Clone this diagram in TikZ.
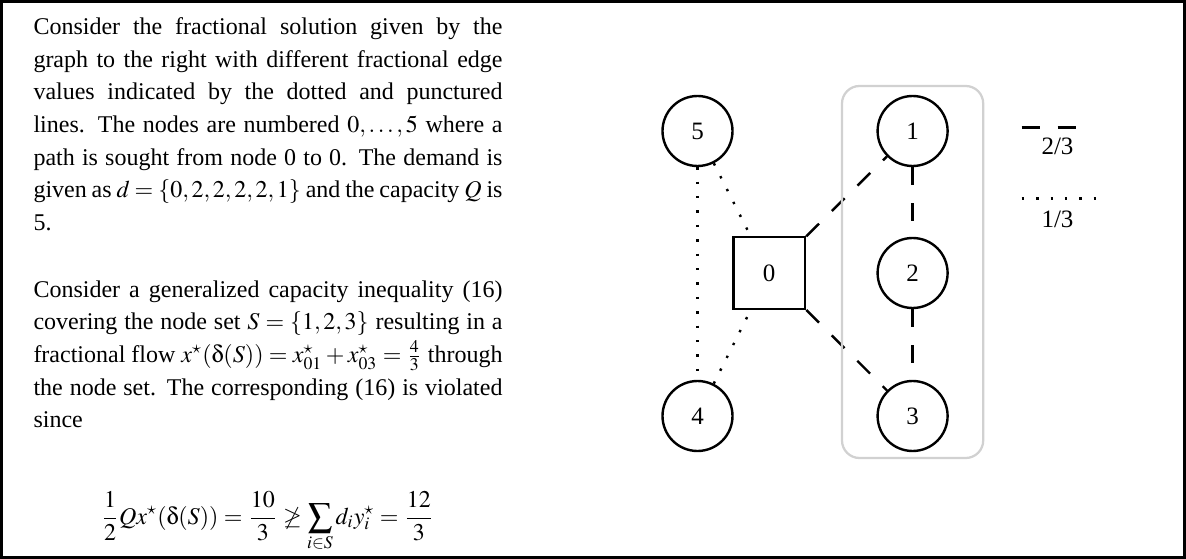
\documentclass[tikz,border=0pt]{standalone}
\usepackage{mathptmx}
\usepackage[Symbol]{upgreek}
\usepackage{fontspec}
\setmainfont[WordSpace={1,1,2}]{Liberation Serif}
\usetikzlibrary{calc}
\tikzset{
  gline/.style={line width=0.96pt},
  vtx/.style={circle, draw, gline, minimum size=28pt, inner sep=0pt, fill=white},
  depot/.style={rectangle, draw, gline, minimum size=28.7pt, inner sep=0pt, fill=white},
  twothird/.style={gline, dash pattern=on 7.2pt off 7.2pt},
  onethird/.style={gline, dash pattern=on 0.96pt off 4.8pt},
  groupbox/.style={draw=black!18, line width=0.9pt, rounded corners=7pt},
  para/.style={anchor=base west, inner sep=0pt, text width=187.6pt, align=justify,
    font=\fontsize{9.6pt}{13.07pt}\selectfont},
  frame/.style={draw=black, line width=1.2pt}
}
\begin{document}
\begin{tikzpicture}[x=0.4pt, y=-0.4pt, font=\fontsize{10pt}{12pt}\selectfont]
\useasboundingbox (0,0) rectangle (1186,559);
\draw[frame] (1.5,1.5) rectangle (1184.5,557.5);

% text
\node[para] (p1) at (33,34.5) {Consider the fractional solution given by the\linebreak
graph to the right with different fractional edge\linebreak
values indicated by the dotted and punctured\linebreak
lines. The nodes are numbered $0,\ldots,5$ where a\linebreak
path is sought from node 0 to 0. The demand is\linebreak
given as $d=\{0,2,2,2,2,1\}$ and the capacity $Q$ is\linebreak
5.};
\node[para] (p2) at (33,297) {Consider a generalized capacity inequality (16)\linebreak
covering the node set $S=\{1,2,3\}$ resulting in a\linebreak
fractional flow $x^\star(\updelta(S)) = x^\star_{01}+x^\star_{03}=\frac{4}{3}$ through\linebreak
the node set. The corresponding (16) is violated\linebreak
since};
\node[anchor=base, inner sep=0pt, font=\fontsize{9.6pt}{12pt}\selectfont] (eq) at (267.5,524) {$\displaystyle \frac{1}{2}Qx^\star(\updelta(S)) = \frac{10}{3} \not\geq \sum_{i\in S} d_i y_i^\star = \frac{12}{3}$};

% graph nodes
\node[vtx] (n5) at (697.5,131) {5};
\node[vtx] (n4) at (697.5,416) {4};
\node[depot] (n0) at (769.2,273) {0};
\node[vtx] (n1) at (912.6,131) {1};
\node[vtx] (n2) at (912.6,273) {2};
\node[vtx] (n3) at (912.6,416) {3};

% edges
\draw[onethird] (n5) -- (n4);
\draw[onethird] (n5) -- (n0);
\draw[onethird] (n4) -- (n0);
\draw[twothird] (n0) -- (n1);
\draw[twothird] (n0) -- (n3);
\draw[twothird] (n1) -- (n2);
\draw[twothird] (n2) -- (n3);

% node set S
\draw[groupbox] (842,86) rectangle (983.2,458);

% legend
\coordinate (la) at (1021.7,127.7);
\coordinate (lb) at (1093.7,127.7);
\coordinate (lc) at (1021.7,198.3);
\coordinate (ld) at (1095.5,198.3);
\draw[twothird] (la) -- (lb);
\draw[onethird] (lc) -- (ld);
\node[inner sep=0pt] (lt1) at (1057.5,146.7) {2/3};
\node[inner sep=0pt] (lt2) at (1057.5,219) {1/3};
\end{tikzpicture}
\end{document}
